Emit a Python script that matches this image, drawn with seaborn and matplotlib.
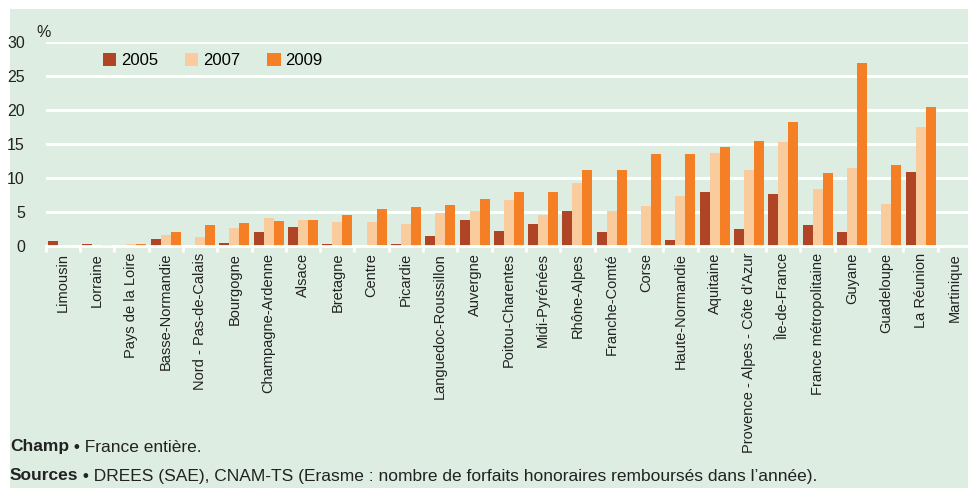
import matplotlib
matplotlib.use("Agg")
import matplotlib.pyplot as plt
import seaborn as sns
import pandas as pd

# Données
regions = ["Limousin", "Lorraine", "Pays de la Loire", "Basse-Normandie",
           "Nord - Pas-de-Calais", "Bourgogne", "Champagne-Ardenne", "Alsace",
           "Bretagne", "Centre", "Picardie", "Languedoc-Roussillon", "Auvergne",
           "Poitou-Charentes", "Midi-Pyrénées", "Rhône-Alpes", "Franche-Comté",
           "Corse", "Haute-Normandie", "Aquitaine",
           "Provence - Alpes - Côte d'Azur", "Île-de-France",
           "France métropolitaine", "Guyane", "Guadeloupe", "La Réunion",
           "Martinique"]
v2005 = [0.7, 0.25, 0.0, 1.1, 0.0, 0.5, 2.1, 2.8, 0.35, 0.0, 0.3, 1.4, 3.8,
         2.2, 3.2, 5.2, 2.1, 0.0, 0.9, 7.9, 2.5, 7.7, 3.1, 2.0, 0.0, 10.9, 0.0]
v2007 = [0.1, 0.0, 0.3, 1.6, 1.3, 2.7, 4.1, 3.8, 3.6, 3.6, 3.3, 4.9, 5.1,
         6.8, 4.5, 9.3, 5.2, 5.9, 7.3, 13.7, 11.2, 15.3, 8.4, 11.5, 6.2, 17.5, 0.0]
v2009 = [0.0, 0.15, 0.35, 2.1, 3.1, 3.4, 3.7, 3.9, 4.5, 5.5, 5.7, 6.1, 6.9,
         7.9, 8.0, 11.2, 11.2, 13.5, 13.6, 14.6, 15.4, 18.3, 10.8, 27.0, 12.0, 20.5, 0.0]
annees = ["2005", "2007", "2009"]
couleurs = ["#b04526", "#f9cb9d", "#f47f24"]

df = pd.DataFrame({
    "region": regions * 3,
    "annee": ["2005"] * len(regions) + ["2007"] * len(regions) + ["2009"] * len(regions),
    "valeur": v2005 + v2007 + v2009,
})

fond = "#deede2"
texte = "#222222"
plt.rcParams["font.family"] = ["Liberation Sans", "DejaVu Sans"]

W, H = 968, 488
fig = plt.figure(figsize=(W / 100, H / 100), dpi=100)
fig.patch.set_facecolor("white")
# fond vert avec une marge blanche en haut et à gauche
fig.patches.append(plt.Rectangle((10 / W, 0), 1, (H - 9) / H, transform=fig.transFigure,
                                 facecolor=fond, edgecolor="none", zorder=-10))

ax = fig.add_axes([45.7 / W, 242 / H, (972 - 45.7) / W, 203.7 / H])
ax.set_facecolor(fond)

sns.barplot(data=df, x="region", y="valeur", hue="annee", hue_order=annees,
            palette=couleurs, width=0.875, gap=0, saturation=1, ax=ax,
            linewidth=0)

ax.set_ylim(0, 30)
ax.set_xlim(-0.5, len(regions) - 0.5)
ax.set_yticks(range(0, 31, 5))
ax.yaxis.grid(True, color="white", linewidth=2.2)
ax.set_axisbelow(True)
for s in ["top", "right", "left"]:
    ax.spines[s].set_visible(False)
ax.spines["bottom"].set_color("white")
ax.spines["bottom"].set_linewidth(2)
ax.tick_params(axis="y", length=0, pad=15, labelsize=11.5, labelcolor=texte)
ax.tick_params(axis="x", which="major", length=0, pad=5, labelsize=10.5,
               labelcolor=texte, rotation=90)
ax.set_xticks(range(len(regions)))
ax.set_xticklabels(regions, va="top", ha="center")
ax.set_xticks([i - 0.5 for i in range(len(regions) + 1)], minor=True)
ax.tick_params(axis="x", which="minor", length=4, width=2, color="white")
ax.set_xlabel("")
ax.set_ylabel("")

fig.text(36 / W, (H - 40) / H, "%", fontsize=11.5, color=texte,
         va="bottom", ha="left")

ax.legend(loc="upper left", bbox_to_anchor=(103 / W, (H - 53) / H),
          bbox_transform=fig.transFigure, ncol=3, frameon=False,
          fontsize=12, handlelength=0.8, handleheight=0.8,
          handletextpad=0.3, columnspacing=1.6, borderaxespad=0, borderpad=0)

# notes en bas : mot en gras suivi du texte normal
fig.canvas.draw()
renderer = fig.canvas.get_renderer()
notes = [("Champ", " • France entière.", 447),
         ("Sources", " • DREES (SAE), CNAM-TS (Erasme : nombre de forfaits honoraires remboursés dans l’année).", 476)]
for gras, suite, y in notes:
    t = fig.text(10 / W, (H - y) / H, gras, fontsize=12.5, fontweight="bold",
                 color=texte, va="center", ha="left")
    x1 = t.get_window_extent(renderer).x1
    fig.text(x1 / W, (H - y) / H, suite, fontsize=12.5, color=texte,
             va="center", ha="left")

fig.savefig("out.png", dpi=100, facecolor=fig.get_facecolor())
